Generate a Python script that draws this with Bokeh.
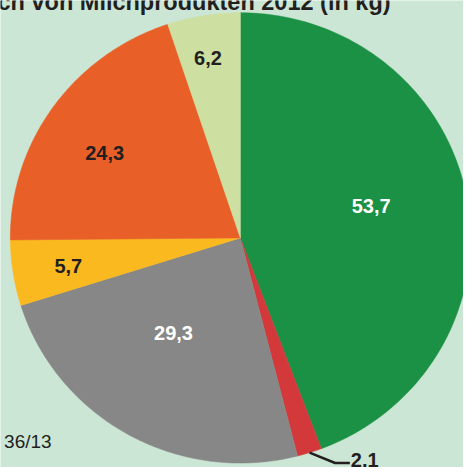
import numpy as np
from bokeh.plotting import figure
from bokeh.models import Range1d, ColumnDataSource
from bokeh.core.properties import value
from bokeh.embed import file_html
from bokeh.resources import INLINE

# ---- data ----
categories = ["Konsummilch", "Kondensmilch", "Milchfrischprodukte", "Butter", "Käse", "Sahne"]
values = [53.7, 2.1, 29.3, 5.7, 24.3, 6.2]
value_labels = ["53,7", "2,1", "29,3", "5,7", "24,3", "6,2"]
title_text = "ch von Milchprodukten 2012 (in kg)"
source_text = ". 36/13"

# ---- styles / layout ----
colors = ["#1b9145", "#d3383a", "#878787", "#fbb920", "#e86027", "#cddfa1"]
label_colors = ["white", "#231f20", "white", "#231f20", "#231f20", "#231f20"]
label_pos = [(377, 209), None, (176, 338), (69, 270), (106, 155), (211, 58)]
bg = "#cce6d5"
dark = "#231f20"
FONT = "Liberation Sans"
cx, cy, rx, ry = 244.0, 241.5, 234.0, 229.0

W, H = 471, 475
p = figure(width=463, height=467, x_range=Range1d(0, W), y_range=Range1d(-H, 0),
           x_axis_type=None, y_axis_type=None, toolbar_location=None,
           output_backend="svg", min_border=0, outline_line_color=None,
           background_fill_color=bg, border_fill_color=bg)
p.grid.visible = False

total = float(sum(values))
cum = np.concatenate([[0.0], np.cumsum(values)]) / total * 2 * np.pi
xs, ys = [], []
for i in range(len(values)):
    t = np.linspace(cum[i], cum[i + 1], 120)
    xs.append(list(np.concatenate([[cx], cx + rx * np.sin(t)])))
    ys.append(list(np.concatenate([[-cy], -cy + ry * np.cos(t)])))
src = ColumnDataSource(dict(xs=xs, ys=ys, color=colors, cat=categories, val=values))
p.patches("xs", "ys", source=src, fill_color="color", line_color="color", line_width=0.5)

# value labels inside slices
lx = [pt[0] for pt in label_pos if pt is not None]
ly = [-pt[1] for pt in label_pos if pt is not None]
lt = [value_labels[i] for i, pt in enumerate(label_pos) if pt is not None]
lc = [label_colors[i] for i, pt in enumerate(label_pos) if pt is not None]
p.text(x=lx, y=ly, text=lt, text_color=lc, text_font=value(FONT), text_font_style="bold",
       text_font_size="20px", text_align="center", text_baseline="middle")

# leader line for the small slice
mid = (cum[1] + cum[2]) / 2
sx = cx + rx * np.sin(mid)
sy = -cy + ry * np.cos(mid)
p.line([sx, sx + 26, sx + 41], [sy, sy - 10.5, sy - 10.5], line_color=dark, line_width=2.5)
p.text(x=[sx + 42], y=[sy - 7], text=[value_labels[1]], text_color=dark,
       text_font=value(FONT), text_font_style="bold", text_font_size="20px",
       text_align="left", text_baseline="middle")

# title (cut at the top) and source
p.text(x=[-3], y=[-2], text=[title_text], text_color=dark, text_font=value(FONT),
       text_font_style="bold", text_font_size="23.5px", text_align="left",
       text_baseline="middle")
p.text(x=[52], y=[-449], text=[source_text], text_color=dark, text_font=value(FONT),
       text_font_size="19px", text_align="right", text_baseline="middle")

open("out.html", "w").write(file_html(p, INLINE))
